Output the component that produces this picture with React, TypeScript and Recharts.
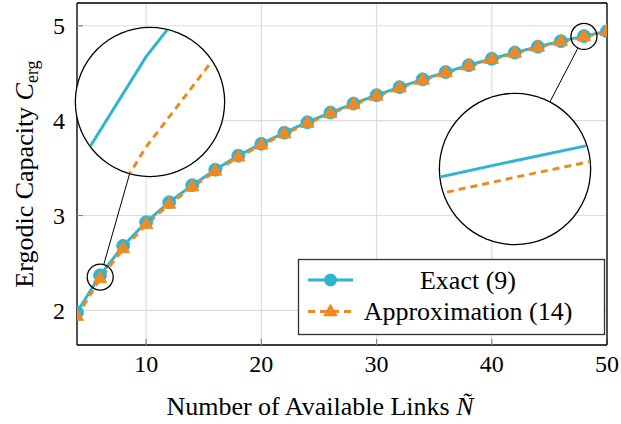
import React from 'react';
import { LineChart, Line, XAxis, YAxis, CartesianGrid, ReferenceDot } from 'recharts';

// ergodic capacity vs. number of available links
const nLinks = [4, 6, 8, 10, 12, 14, 16, 18, 20, 22, 24, 26, 28, 30, 32, 34, 36, 38, 40, 42, 44, 46, 48, 50];
const exactCap = [
  1.98, 2.37, 2.68, 2.93, 3.14, 3.32, 3.483, 3.631, 3.756, 3.873, 3.983, 4.085,
  4.18, 4.268, 4.353, 4.435, 4.512, 4.584, 4.652, 4.717, 4.779, 4.838, 4.891, 4.942,
];
const approxCap = [
  1.935, 2.332, 2.648, 2.903, 3.117, 3.3, 3.465, 3.615, 3.741, 3.859, 3.97, 4.073,
  4.169, 4.257, 4.343, 4.425, 4.503, 4.575, 4.644, 4.709, 4.771, 4.831, 4.884, 4.935,
];
const xTicks = [10, 20, 30, 40, 50];
const yTicks = [2, 3, 4, 5];

const BLUE = '#2fb5d2';
const ORANGE = '#ef8a22';
const FONT = '"Liberation Serif", "Times New Roman", serif';

const W = 621;
const H = 424;
const PLOT = { left: 77, right: 607, top: 3, bottom: 345 };
const X_DOMAIN: [number, number] = [4, 50];
const Y_DOMAIN: [number, number] = [1.635, 5.24];

const data = nLinks.map((n, i) => ({ n, exact: exactCap[i], approx: approxCap[i] }));

// zoomed views: centre in data units, lens placement on the page
const spies = [
  { cx: 6.014, cy: 2.351, r: 13, lensX: 150, lensY: 102, lensR: 74, zoom: 25 },
  { cx: 48, cy: 4.8875, r: 13, lensX: 515, lensY: 169, lensR: 75, zoom: 25 },
];

const pxPerX = (PLOT.right - PLOT.left) / (X_DOMAIN[1] - X_DOMAIN[0]);
const pxPerY = (PLOT.bottom - PLOT.top) / (Y_DOMAIN[1] - Y_DOMAIN[0]);
const toPx = (x: number, y: number) => [
  PLOT.left + (x - X_DOMAIN[0]) * pxPerX,
  PLOT.bottom - (y - Y_DOMAIN[0]) * pxPerY,
];

const Triangle = (props: any) => {
  const { cx, cy, key } = props;
  if (cx == null || cy == null) return null;
  const R = 7.8;
  const s = R * Math.sin(Math.PI / 3);
  return (
    <polygon
      key={key}
      points={`${cx},${cy - R} ${cx - s},${cy + R / 2} ${cx + s},${cy + R / 2}`}
      fill={ORANGE}
      stroke={ORANGE}
      strokeWidth={0.8}
    />
  );
};

function Lens({ s }: { s: (typeof spies)[number] }) {
  const hx = s.lensR / (pxPerX * s.zoom);
  const hy = s.lensR / (pxPerY * s.zoom);
  const d = s.lensR * 2;
  return (
    <div
      style={{
        position: 'absolute',
        left: s.lensX - s.lensR,
        top: s.lensY - s.lensR,
        width: d,
        height: d,
        borderRadius: '50%',
        overflow: 'hidden',
        background: '#fff',
        boxShadow: '0 0 0 1.3px #000',
      }}
    >
      <LineChart width={d} height={d} data={data} margin={{ top: 0, right: 0, bottom: 0, left: 0 }}>
        <XAxis dataKey="n" type="number" domain={[s.cx - hx, s.cx + hx]} allowDataOverflow hide />
        <YAxis type="number" domain={[s.cy - hy, s.cy + hy]} allowDataOverflow hide />
        <Line dataKey="exact" stroke={BLUE} strokeWidth={3} dot={false} isAnimationActive={false} />
        <Line dataKey="approx" stroke={ORANGE} strokeWidth={3} strokeDasharray="7 5" dot={false} isAnimationActive={false} />
      </LineChart>
    </div>
  );
}

function Connector({ s }: { s: (typeof spies)[number] }) {
  const [sx, sy] = toPx(s.cx, s.cy);
  const dx = s.lensX - sx;
  const dy = s.lensY - sy;
  const len = Math.hypot(dx, dy);
  const ux = dx / len;
  const uy = dy / len;
  return (
    <line
      x1={sx + ux * s.r}
      y1={sy + uy * s.r}
      x2={s.lensX - ux * s.lensR}
      y2={s.lensY - uy * s.lensR}
      stroke="#000"
      strokeWidth={1}
    />
  );
}

export default function App() {
  const tickFont = { fill: '#000', fontSize: 24, fontFamily: FONT };
  return (
    <div style={{ position: 'absolute', left: 0, top: 0, width: W, height: H, background: '#fff' }}>
      <LineChart width={W} height={H} data={data} margin={{ top: 2, right: 13, bottom: 0, left: 0 }}>
        <CartesianGrid stroke="#dcdcdc" strokeWidth={1.2} />
        <XAxis
          dataKey="n"
          type="number"
          domain={X_DOMAIN}
          ticks={xTicks}
          interval={0}
          height={79}
          allowDataOverflow
          axisLine={{ stroke: '#000', strokeWidth: 1.3 }}
          tickLine={{ stroke: '#888', strokeWidth: 1.2 }}
          tickSize={-6}
          tickMargin={16}
          tick={tickFont}
        />
        <XAxis
          xAxisId="top"
          orientation="top"
          dataKey="n"
          type="number"
          domain={X_DOMAIN}
          ticks={xTicks}
          interval={0}
          height={1}
          allowDataOverflow
          axisLine={{ stroke: '#000', strokeWidth: 1.3 }}
          tickLine={{ stroke: '#888', strokeWidth: 1.2 }}
          tickSize={-6}
          tick={false}
        />
        <YAxis
          type="number"
          domain={Y_DOMAIN}
          ticks={yTicks}
          interval={0}
          width={77}
          allowDataOverflow
          axisLine={{ stroke: '#000', strokeWidth: 1.3 }}
          tickLine={{ stroke: '#888', strokeWidth: 1.2 }}
          tickSize={-6}
          tickMargin={18}
          tick={tickFont}
        />
        <YAxis
          yAxisId="right"
          orientation="right"
          type="number"
          domain={Y_DOMAIN}
          ticks={yTicks}
          interval={0}
          width={1}
          allowDataOverflow
          axisLine={{ stroke: '#000', strokeWidth: 1.3 }}
          tickLine={{ stroke: '#888', strokeWidth: 1.2 }}
          tickSize={-6}
          tick={false}
        />
        <Line
          dataKey="exact"
          stroke={BLUE}
          strokeWidth={3}
          dot={{ r: 6.5, fill: BLUE, stroke: BLUE, strokeWidth: 0.8 }}
          isAnimationActive={false}
        />
        <Line
          dataKey="approx"
          stroke={ORANGE}
          strokeWidth={3}
          strokeDasharray="7 5"
          dot={Triangle}
          isAnimationActive={false}
        />
        {spies.map((s, i) => (
          <ReferenceDot key={i} x={s.cx} y={s.cy} r={s.r} fill="none" stroke="#000" strokeWidth={1.3} />
        ))}
      </LineChart>

      <svg width={W} height={H} style={{ position: 'absolute', left: 0, top: 0, pointerEvents: 'none' }}>
        {spies.map((s, i) => (
          <Connector key={i} s={s} />
        ))}
        <text x={320} y={415} textAnchor="middle" fontFamily={FONT} fontSize={26} fill="#000">
          Number of Available Links <tspan fontStyle="italic">Ñ</tspan>
        </text>
        <text
          x={33}
          y={174}
          transform="rotate(-90 33 174)"
          textAnchor="middle"
          fontFamily={FONT}
          fontSize={26}
          fill="#000"
        >
          Ergodic Capacity <tspan fontStyle="italic">C</tspan>
          <tspan fontSize={18} dy={5}>erg</tspan>
        </text>

        <g fontFamily={FONT} fontSize={26} fill="#000">
          <rect x={298.5} y={259.5} width={306} height={75} fill="#fff" stroke="#333" strokeWidth={1.3} />
          <line x1={308} y1={280} x2={353} y2={280} stroke={BLUE} strokeWidth={3} />
          <circle cx={330.5} cy={280} r={6.5} fill={BLUE} />
          <text x={468} y={288.5} textAnchor="middle">Exact (9)</text>
          <line x1={308} y1={311.5} x2={353} y2={311.5} stroke={ORANGE} strokeWidth={3} strokeDasharray="7 5" />
          <Triangle cx={330.5} cy={312} />
          <text x={468} y={319.5} textAnchor="middle">Approximation (14)</text>
        </g>
      </svg>

      {spies.map((s, i) => (
        <Lens key={i} s={s} />
      ))}
    </div>
  );
}
